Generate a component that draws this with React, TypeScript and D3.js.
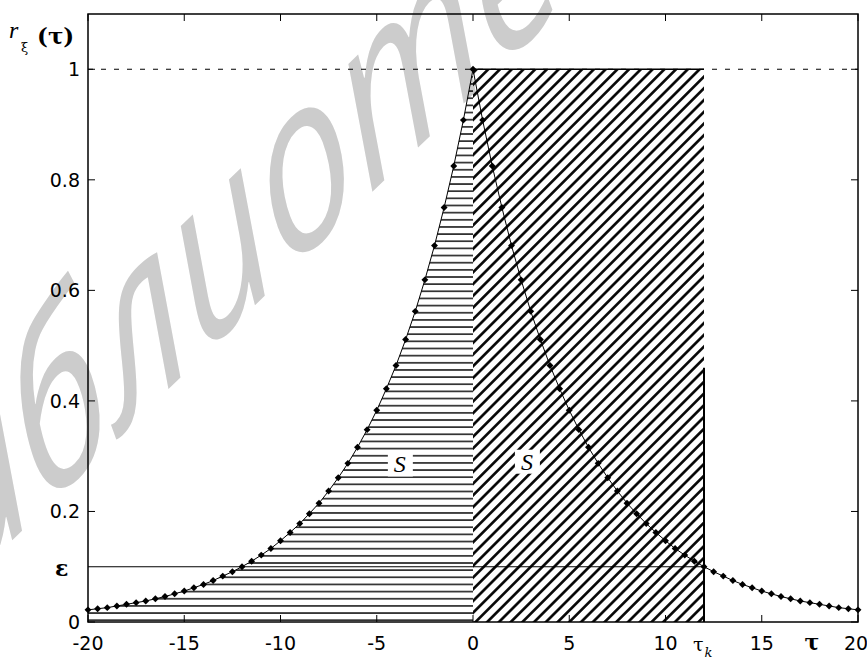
import * as d3 from 'd3';

const W = 867;
const H = 659;

const tauStep = 0.5;
const rRight = [
  1, 0.908, 0.825, 0.75, 0.681, 0.619, 0.562, 0.511, 0.464, 0.422, 0.383,
  0.348, 0.316, 0.287, 0.261, 0.237, 0.215, 0.196, 0.178, 0.162, 0.147,
  0.133, 0.121, 0.11, 0.1, 0.091, 0.083, 0.075, 0.068, 0.062, 0.056,
  0.051, 0.046, 0.042, 0.038, 0.035, 0.032, 0.029, 0.026, 0.024, 0.022,
];

const xTicks = [-20, -15, -10, -5, 0, 5, 10, 15, 20];
const xTickLabels = ['-20', '-15', '-10', '-5', '0', '5', '10', '15', '20'];
const yTicks = [0, 0.2, 0.4, 0.6, 0.8, 1];
const yTickLabels = ['0', '0.2', '0.4', '0.6', '0.8', '1'];

const epsilon = 0.1;
const tauK = 12;
const tauKLineTop = 0.46;
const tauLabelAt = 17.6;
const sLabels = [
  { tau: -3.8, r: 0.285 },
  { tau: 2.8, r: 0.29 },
];

const x = d3.scaleLinear().domain([-20, 20]).range([88, 858]);
const y = d3.scaleLinear().domain([0, 1.1]).range([622, 14]);

const points: [number, number][] = [];
rRight.forEach((r, i) => {
  if (i > 0) points.unshift([-i * tauStep, r]);
});
rRight.forEach((r, i) => points.push([i * tauStep, r]));
const leftPoints = points.filter((p) => p[0] <= 0);

const line = d3.line<[number, number]>().x((d) => x(d[0])).y((d) => y(d[1]));
const area = d3
  .area<[number, number]>()
  .x((d) => x(d[0]))
  .y0(y(0))
  .y1((d) => y(d[1]));

const marker = d3.symbol().type(d3.symbolSquare).size(24)();

export default function App() {
  const x0 = x.range()[0];
  const x1 = x.range()[1];
  const yb = y(0);
  const yt = y.range()[1];
  const tick = 7;
  const axisFont = 'DejaVu Sans, sans-serif';

  return (
    <svg
      width={W}
      height={H}
      style={{ position: 'absolute', left: 0, top: 0, background: '#fff' }}
    >
      <defs>
        <pattern id="hhatch" patternUnits="userSpaceOnUse" width={10} height={7.15} y={1.7}>
          <line x1={0} x2={10} y1={3.6} y2={3.6} stroke="#000" strokeWidth={1.4} />
        </pattern>
        <pattern
          id="dhatch"
          patternUnits="userSpaceOnUse"
          width={8.3}
          height={8.3}
          patternTransform="rotate(45)"
        >
          <line x1={4.15} x2={4.15} y1={0} y2={8.3} stroke="#000" strokeWidth={2.6} />
        </pattern>
      </defs>

      {/* watermark */}
      <text
        transform="matrix(0.791,-0.765,0.41,1.128,-121,669)"
        fontFamily="Open Sans, sans-serif"
        fontStyle="italic"
        fontWeight={500}
        fontSize={185}
        fill="#cccccc"
      >
        библиотека
      </text>

      {/* hatched regions */}
      <path d={area(leftPoints) ?? ''} fill="url(#hhatch)" />
      <rect
        x={x(0)}
        y={y(1)}
        width={x(tauK) - x(0)}
        height={y(0) - y(1)}
        fill="url(#dhatch)"
      />

      {/* reference lines */}
      <line x1={x0} x2={x1} y1={y(1)} y2={y(1)} stroke="#000" strokeWidth={1.2} strokeDasharray="5 8" />
      <line x1={x(0)} x2={x(tauK)} y1={y(1)} y2={y(1)} stroke="#000" strokeWidth={1.5} />
      <line x1={x0} x2={x(tauK)} y1={y(epsilon)} y2={y(epsilon)} stroke="#000" strokeWidth={1.2} />
      <line x1={x(tauK)} x2={x(tauK)} y1={y(tauKLineTop)} y2={yb} stroke="#000" strokeWidth={2} />

      {/* curve */}
      <path d={line(points) ?? ''} fill="none" stroke="#000" strokeWidth={1} />
      {points.map((p, i) => (
        <path
          key={i}
          d={marker ?? ''}
          transform={`translate(${x(p[0])},${y(p[1])}) rotate(45)`}
          fill="#000"
        />
      ))}

      {/* S labels */}
      {sLabels.map((s, i) => (
        <g key={i} transform={`translate(${x(s.tau)},${y(s.r)})`}>
          <rect x={-12} y={-12} width={25} height={24} fill="#fff" />
          <text
            textAnchor="middle"
            dy={8}
            fontFamily="Liberation Serif, serif"
            fontStyle="italic"
            fontSize={24}
          >
            S
          </text>
        </g>
      ))}

      {/* axes box */}
      <rect x={x0} y={yt} width={x1 - x0} height={yb - yt} fill="none" stroke="#000" strokeWidth={1.5} />
      {xTicks.map((t) => (
        <g key={'x' + t}>
          <line x1={x(t)} x2={x(t)} y1={yb} y2={yb - tick} stroke="#000" />
          <line x1={x(t)} x2={x(t)} y1={yt} y2={yt + tick} stroke="#000" />
        </g>
      ))}
      {yTicks.map((t) => (
        <g key={'y' + t}>
          <line x1={x0} x2={x0 + tick} y1={y(t)} y2={y(t)} stroke="#000" />
          <line x1={x1} x2={x1 - tick} y1={y(t)} y2={y(t)} stroke="#000" />
        </g>
      ))}

      {/* tick labels */}
      {xTicks.map((t, i) => (
        <text
          key={'xl' + t}
          x={t === 20 ? x(t) - 2 : x(t)}
          y={650}
          textAnchor="middle"
          fontFamily={axisFont}
          fontSize={19}
          fill="#000"
        >
          {xTickLabels[i]}
        </text>
      ))}
      {yTicks.map((t, i) => (
        <text
          key={'yl' + t}
          x={80}
          y={y(t) + 7}
          textAnchor="end"
          fontFamily={axisFont}
          fontSize={19}
          fill="#000"
        >
          {yTickLabels[i]}
        </text>
      ))}

      {/* special labels */}
      <text x={55} y={y(epsilon) + 9} fontFamily="DejaVu Serif, serif" fontWeight="bold" fontSize={22}>
        ε
      </text>
      <text x={x(tauK) - 11} y={651} fontFamily="DejaVu Serif, serif" fontSize={19}>
        τ
        <tspan dx={1} dy={6} fontSize={13} fontStyle="italic">
          k
        </tspan>
      </text>
      <text
        x={x(tauLabelAt)}
        y={650}
        textAnchor="middle"
        fontFamily="DejaVu Serif, serif"
        fontWeight="bold"
        fontSize={22}
      >
        τ
      </text>
      <text x={9} y={38} fontFamily="Liberation Serif, serif" fontStyle="italic" fontSize={24}>
        r
      </text>
      <text x={21} y={52} fontFamily="DejaVu Serif, serif" fontSize={13}>
        ξ
      </text>
      <text x={37} y={44} fontFamily="DejaVu Serif, serif" fontWeight="bold" fontSize={23}>
        (τ)
      </text>
    </svg>
  );
}
